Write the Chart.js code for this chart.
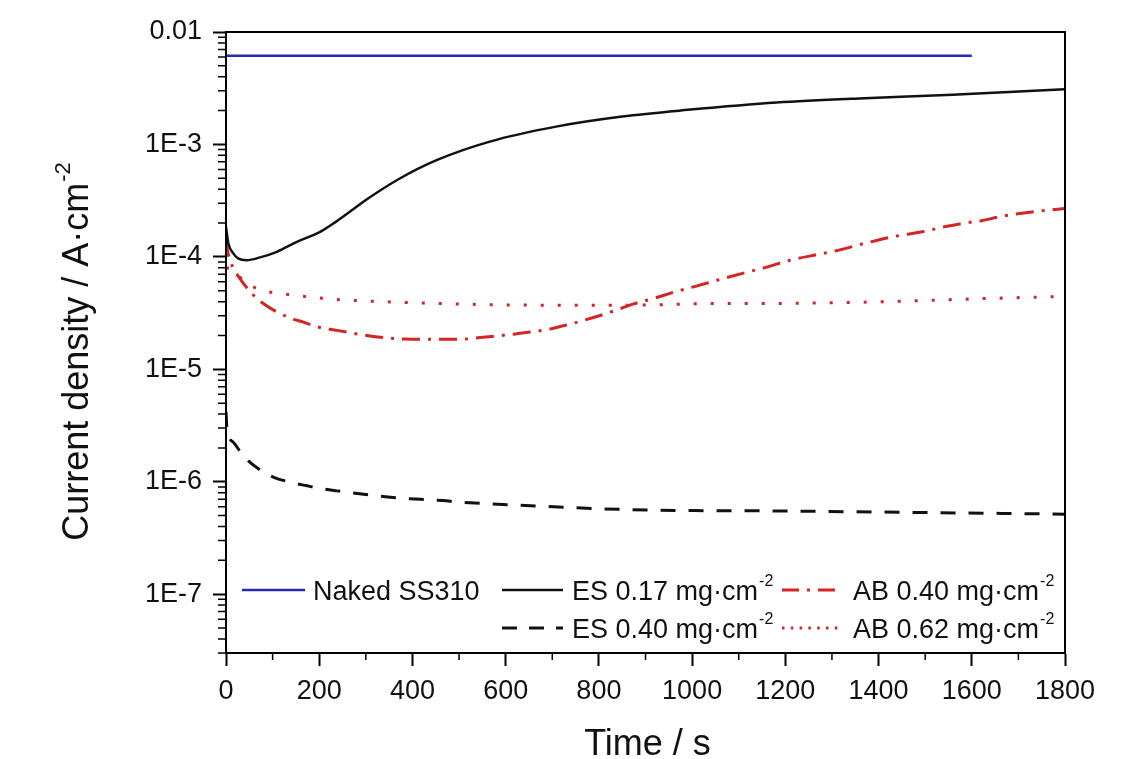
<!DOCTYPE html>
<html>
<head>
<meta charset="utf-8">
<script src="https://cdn.jsdelivr.net/npm/chart.js@4.4.1/dist/chart.umd.min.js"></script>
<style>
  html, body { margin: 0; padding: 0; background: #fff; }
  canvas { display: block; }
</style>
</head>
<body>
<canvas id="chart" width="1125" height="759"></canvas>
<script>
// Chronoamperometry: current density vs time for bare and coated SS310
const FONT = '"Liberation Sans", Arial, Helvetica, sans-serif';

// Series names and the areal loading unit (superscript "-2")
const seriesNames = ['Naked SS310', 'ES 0.17', 'ES 0.40', 'AB 0.40', 'AB 0.62'];
const loadingUnit = 'mg·cm';
const unitExponent = '-2';

// Naked SS310
const timeNaked = [0, 800, 1600];
const jNaked = [6.15e-3, 6.15e-3, 6.15e-3];

// ES 0.17 mg/cm2
const timeES017 = [0, 5, 16, 26, 44, 73, 109, 152, 202, 237, 273, 300, 370, 453, 566, 708, 850, 991, 1181, 1370, 1559, 1701, 1800];
const jES017 = [1.85e-4, 1.32e-4, 1.07e-4, 9.7e-5, 9.35e-5, 9.9e-5, 1.11e-4, 1.36e-4, 1.67e-4, 2.07e-4, 2.65e-4, 3.2e-4, 4.9e-4, 7.28e-4, 1.06e-3, 1.44e-3, 1.77e-3, 2.03e-3, 2.36e-3, 2.58e-3, 2.76e-3, 2.96e-3, 3.1e-3];

// ES 0.40 mg/cm2
const timeES040 = [0, 2, 16, 40, 75, 104, 139, 174, 203, 238, 337, 366, 465, 500, 663, 734, 907, 1176, 1491, 1765, 1800];
const jES040 = [4.2e-6, 3.0e-6, 2.24e-6, 1.65e-6, 1.26e-6, 1.09e-6, 9.9e-7, 9.2e-7, 8.7e-7, 8.3e-7, 7.4e-7, 7.2e-7, 6.8e-7, 6.6e-7, 6.1e-7, 5.9e-7, 5.6e-7, 5.5e-7, 5.33e-7, 5.17e-7, 5.15e-7];

// AB 0.40 mg/cm2
const timeAB040 = [0, 3, 10, 30, 59, 80, 109, 141, 166, 197, 238, 325, 384, 430, 500, 558, 605, 687, 734, 792, 826, 873, 920, 960, 1009, 1060, 1120, 1160, 1208, 1279, 1319, 1367, 1430, 1494, 1541, 1581, 1621, 1661, 1716, 1800];
const jAB040 = [1.45e-4, 1.15e-4, 9.0e-5, 6.4e-5, 4.56e-5, 3.85e-5, 3.24e-5, 2.83e-5, 2.63e-5, 2.38e-5, 2.22e-5, 1.94e-5, 1.86e-5, 1.85e-5, 1.85e-5, 1.94e-5, 2.03e-5, 2.25e-5, 2.5e-5, 2.92e-5, 3.24e-5, 3.8e-5, 4.3e-5, 4.85e-5, 5.5e-5, 6.3e-5, 7.35e-5, 8.1e-5, 9.3e-5, 1.07e-4, 1.16e-4, 1.31e-4, 1.51e-4, 1.67e-4, 1.85e-4, 1.99e-4, 2.1e-4, 2.28e-4, 2.47e-4, 2.7e-4];

// AB 0.62 mg/cm2
const timeAB062 = [0, 15, 40, 77, 120, 159, 194, 238, 273, 453, 687, 862, 1064, 1153, 1386, 1620, 1800];
const jAB062 = [8.0e-5, 7.7e-5, 6.0e-5, 5.05e-5, 4.72e-5, 4.49e-5, 4.34e-5, 4.17e-5, 4.1e-5, 3.85e-5, 3.72e-5, 3.72e-5, 3.85e-5, 3.85e-5, 3.97e-5, 4.25e-5, 4.45e-5];

// Axis ticks
const yTickValues = [1e-7, 1e-6, 1e-5, 1e-4, 1e-3, 1e-2];
const yTickLabels = ['1E-7', '1E-6', '1E-5', '1E-4', '1E-3', '0.01'];
const xTickStep = 200;

const toPoints = (ts, vs) => ts.map((t, i) => ({ x: t, y: vs[i] }));

const BLUE = '#2828b8';
const RED = '#d42424';
const BLACK = '#111111';

const datasets = [
  { label: seriesNames[0], data: toPoints(timeNaked, jNaked), borderColor: BLUE, borderWidth: 2.5, borderDash: [] },
  { label: seriesNames[1], data: toPoints(timeES017, jES017), borderColor: BLACK, borderWidth: 2.5, borderDash: [] },
  { label: seriesNames[2], data: toPoints(timeES040, jES040), borderColor: BLACK, borderWidth: 3, borderDash: [15, 13] },
  { label: seriesNames[3], data: toPoints(timeAB040, jAB040), borderColor: RED, borderWidth: 3, borderDash: [18, 8, 3, 8] },
  { label: seriesNames[4], data: toPoints(timeAB062, jAB062), borderColor: RED, borderWidth: 3, borderDash: [3, 14] }
];

// Legend grid: [dataset index, row, column, sample dash]
const legendLayout = [
  [0, 0, 0, []],
  [1, 0, 1, []],
  [3, 0, 2, [17, 8, 3, 8]],
  [2, 1, 1, [15, 12]],
  [4, 1, 2, [2.5, 6.3]]
];

function drawWithSup(ctx, text, sup, x, y, size, supSize, rise) {
  ctx.font = size + 'px ' + FONT;
  ctx.fillText(text, x, y);
  const w = ctx.measureText(text).width;
  if (sup) {
    ctx.font = supSize + 'px ' + FONT;
    ctx.fillText(sup, x + w + 1, y - rise);
    return w + 1 + ctx.measureText(sup).width;
  }
  return w;
}

const decorations = {
  id: 'decorations',
  afterDraw(chart) {
    const { ctx, chartArea: a, scales: { x, y } } = chart;
    ctx.save();
    // Frame
    ctx.strokeStyle = '#000';
    ctx.lineWidth = 2;
    ctx.strokeRect(a.left, a.top, a.right - a.left, a.bottom - a.top);

    // Minor ticks
    ctx.lineWidth = 1.5;
    ctx.beginPath();
    for (let d = -8; d <= -3; d++) {
      for (let m = 2; m <= 9; m++) {
        const v = m * Math.pow(10, d);
        if (v < y.min * 0.999 || v > y.max) continue;
        const py = y.getPixelForValue(v);
        ctx.moveTo(a.left - 8, py);
        ctx.lineTo(a.left, py);
      }
    }
    for (let t = x.min + xTickStep / 2; t < x.max; t += xTickStep) {
      const px = x.getPixelForValue(t);
      ctx.moveTo(px, a.bottom);
      ctx.lineTo(px, a.bottom + 7);
    }
    ctx.stroke();

    // Axis titles
    ctx.fillStyle = '#111';
    ctx.textBaseline = 'alphabetic';
    ctx.textAlign = 'left';
    ctx.font = '36px ' + FONT;
    const xt = 'Time / s';
    const xw = ctx.measureText(xt).width;
    ctx.fillText(xt, (a.left + a.right) / 2 - xw / 2 + 2, 755);

    ctx.save();
    ctx.translate(88, 352);
    ctx.rotate(-Math.PI / 2);
    const yt = 'Current density / A·cm';
    ctx.font = '36px ' + FONT;
    const yw = ctx.measureText(yt).width;
    ctx.font = '22px ' + FONT;
    const sw = ctx.measureText(unitExponent).width;
    drawWithSup(ctx, yt, unitExponent, -(yw + sw) / 2, 0, 36, 22, 18);
    ctx.restore();

    // Legend
    const rowY = [590, 628];
    const colLine = [[16, 79], [276, 337], [556, 614]];
    const colText = [87, 346, 627];
    legendLayout.forEach(([di, row, col, dash]) => {
      const ds = chart.data.datasets[di];
      const yy = rowY[row];
      ctx.save();
      ctx.strokeStyle = ds.borderColor;
      ctx.lineWidth = ds.borderWidth;
      ctx.setLineDash(dash);
      ctx.beginPath();
      ctx.moveTo(a.left + colLine[col][0], yy);
      ctx.lineTo(a.left + colLine[col][1], yy);
      ctx.stroke();
      ctx.restore();
      ctx.fillStyle = '#111';
      const isCoating = di > 0;
      drawWithSup(ctx, ds.label + (isCoating ? ' ' + loadingUnit : ''),
        isCoating ? unitExponent : '', a.left + colText[col], yy + 10, 27, 16, 14);
    });
    ctx.restore();
  }
};

const axisCommon = {
  grid: { display: true, drawOnChartArea: false, drawTicks: true, tickLength: 13, color: '#000', tickColor: '#000', tickWidth: 2 },
  border: { display: true, color: '#000', width: 2 }
};

new Chart(document.getElementById('chart'), {
  type: 'line',
  data: { datasets },
  options: {
    responsive: false,
    animation: false,
    events: [],
    layout: { padding: { top: 32, right: 60, left: 0, bottom: 0 } },
    elements: {
      point: { radius: 0 },
      line: { cubicInterpolationMode: 'monotone', borderCapStyle: 'butt' }
    },
    plugins: { legend: { display: false }, tooltip: { enabled: false } },
    scales: {
      x: {
        type: 'linear',
        min: 0,
        max: 1800,
        ...axisCommon,
        ticks: {
          stepSize: xTickStep, color: '#111', font: { family: FONT, size: 27 }, padding: 9, maxRotation: 0,
          callback: (value) => String(value)
        },
        afterFit(scale) { scale.height = 106; }
      },
      y: {
        type: 'logarithmic',
        min: 3e-8,
        max: 1e-2,
        ...axisCommon,
        afterBuildTicks(scale) { scale.ticks = yTickValues.map(v => ({ value: v, major: true })); },
        ticks: {
          color: '#111',
          font: { family: FONT, size: 27 },
          padding: 11,
          callback(value) {
            const i = yTickValues.findIndex(v => Math.abs(v - value) / v < 1e-6);
            return i >= 0 ? yTickLabels[i] : '';
          }
        },
        afterFit(scale) { scale.width = 226; }
      }
    }
  },
  plugins: [decorations]
});
</script>
</body>
</html>
